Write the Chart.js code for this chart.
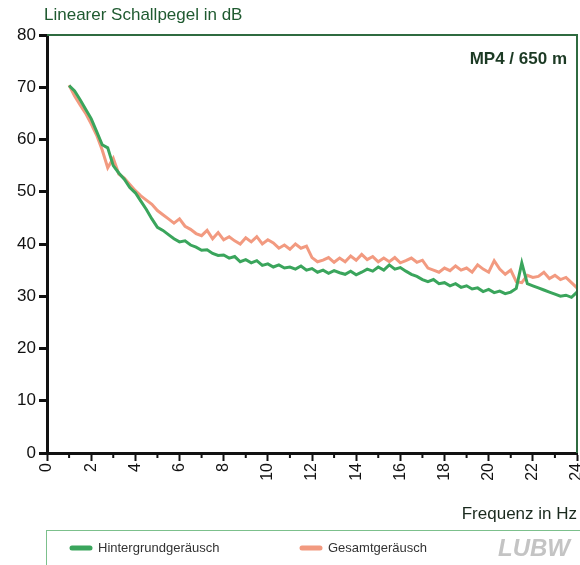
<!DOCTYPE html>
<html>
<head>
<meta charset="utf-8">
<script src="https://cdn.jsdelivr.net/npm/chart.js@4.4.1/dist/chart.umd.min.js"></script>
<style>
  html, body { margin: 0; padding: 0; background: #fff; }
  #wrap { width: 580px; height: 565px; position: relative; }
</style>
</head>
<body>
<div id="wrap"><canvas id="schall"></canvas></div>
<script>
// Frequenz in Hz (Stützstellen)
const frequenz = [
  1.0, 1.25, 1.5, 1.75, 2.0, 2.25, 2.5, 2.75, 3.0, 3.25, 3.5, 3.75,
  4.0, 4.25, 4.5, 4.75, 5.0, 5.25, 5.5, 5.75, 6.0, 6.25, 6.5, 6.75,
  7.0, 7.25, 7.5, 7.75, 8.0, 8.25, 8.5, 8.75, 9.0, 9.25, 9.5, 9.75,
  10.0, 10.25, 10.5, 10.75, 11.0, 11.25, 11.5, 11.75, 12.0, 12.25, 12.5, 12.75,
  13.0, 13.25, 13.5, 13.75, 14.0, 14.25, 14.5, 14.75, 15.0, 15.25, 15.5, 15.75,
  16.0, 16.25, 16.5, 16.75, 17.0, 17.25, 17.5, 17.75, 18.0, 18.25, 18.5, 18.75,
  19.0, 19.25, 19.5, 19.75, 20.0, 20.25, 20.5, 20.75, 21.0, 21.25, 21.5, 21.75,
  22.0, 22.25, 22.5, 22.75, 23.0, 23.25, 23.5, 23.75, 24.0
];

// Hintergrundgeräusch (dB)
const hintergrund = [
  70.3, 69.3, 67.6, 65.8, 64.0, 61.5, 59.0, 58.4, 55.0, 53.6, 52.4, 50.8,
  49.8, 48.2, 46.6, 44.8, 43.2, 42.6, 41.8, 41.0, 40.4, 40.6, 39.8, 39.4,
  38.8, 38.9, 38.2, 37.8, 37.9, 37.3, 37.6, 36.6, 37.0, 36.4, 36.8, 35.9,
  36.2, 35.6, 36.0, 35.4, 35.6, 35.2, 35.8, 35.0, 35.3, 34.6, 35.0, 34.4,
  34.9, 34.5, 34.2, 34.8, 34.1, 34.6, 35.2, 34.8, 35.6, 35.0, 36.0, 35.2,
  35.5, 34.8, 34.2, 33.8, 33.2, 32.8, 33.2, 32.4, 32.6, 32.0, 32.4, 31.7,
  32.0, 31.4, 31.6, 30.9, 31.3, 30.7, 31.0, 30.5, 30.8, 31.5, 36.4, 32.4,
  32.0, 31.6, 31.2, 30.8, 30.4, 30.0, 30.2, 29.8, 30.8
];

// Gesamtgeräusch (dB)
const gesamt = [
  70.4, 68.3, 66.6, 65.0, 63.0, 60.8, 58.0, 54.6, 56.4, 53.4, 52.6, 51.4,
  50.2, 49.2, 48.4, 47.6, 46.4, 45.6, 44.8, 44.0, 44.8, 43.4, 42.8, 42.0,
  41.6, 42.6, 41.0, 42.2, 40.8, 41.4, 40.6, 40.0, 41.2, 40.4, 41.4, 40.0,
  40.8, 40.2, 39.2, 39.8, 39.0, 40.0, 39.2, 39.6, 37.4, 36.6, 36.9, 37.4,
  36.5, 37.3, 36.6, 37.7, 36.9, 38.0, 37.0, 37.6, 36.6, 37.3, 36.6, 37.4,
  36.4, 36.8, 37.3, 36.5, 36.9, 35.4, 35.0, 34.6, 35.4, 34.9, 35.8, 35.0,
  35.4, 34.6, 36.0, 35.2, 34.6, 36.8, 35.2, 34.2, 35.0, 32.8, 32.6, 34.0,
  33.6, 33.8, 34.6, 33.4, 34.0, 33.2, 33.6, 32.6, 31.6
];

const serienNamen = ['Hintergrundgeräusch', 'Gesamtgeräusch'];
const serienFarben = ['#3aa55c', '#f29a80'];
const yTicks = [0, 10, 20, 30, 40, 50, 60, 70, 80];

const punkte = (werte) => frequenz.map((f, i) => ({ x: f, y: werte[i] }));

const rahmenPlugin = {
  id: 'rahmen',
  afterDraw(chart) {
    const c = chart.ctx;
    const a = chart.chartArea;
    const xs = chart.scales.x;
    c.save();
    // oben und rechts grüner Rahmen
    c.strokeStyle = '#2f6b40';
    c.lineWidth = 2;
    c.beginPath();
    c.moveTo(a.left, a.top);
    c.lineTo(a.right, a.top);
    c.lineTo(a.right, a.bottom);
    c.stroke();
    // kleine Zwischenstriche auf der x-Achse
    c.strokeStyle = '#111';
    c.lineWidth = 2;
    for (let v = 1; v < 24; v += 2) {
      const px = xs.getPixelForValue(v);
      c.beginPath();
      c.moveTo(px, a.bottom);
      c.lineTo(px, a.bottom + 5);
      c.stroke();
    }
    // Titel
    c.fillStyle = '#1f5a30';
    c.font = '17px "Liberation Sans", Arial, sans-serif';
    c.textAlign = 'left';
    c.textBaseline = 'alphabetic';
    c.fillText('Linearer Schallpegel in dB', 44, 20);
    // Messpunkt
    c.fillStyle = '#1c3a24';
    c.font = 'bold 17px "Liberation Sans", Arial, sans-serif';
    c.textAlign = 'right';
    c.fillText('MP4 / 650 m', 567, 64);
    // Achsentitel
    c.fillStyle = '#1a2a1e';
    c.font = '17px "Liberation Sans", Arial, sans-serif';
    c.fillText('Frequenz in Hz', 577, 519);
    // Legendenkasten
    c.strokeStyle = '#7cc08c';
    c.lineWidth = 1;
    c.strokeRect(46.5, 530.5, 560, 60);
    c.lineCap = 'round';
    c.lineWidth = 5;
    const legX = [72, 302];
    c.font = '13px "Liberation Sans", Arial, sans-serif';
    c.textAlign = 'left';
    c.textBaseline = 'middle';
    serienNamen.forEach((name, i) => {
      c.strokeStyle = serienFarben[i];
      c.beginPath();
      c.moveTo(legX[i], 548);
      c.lineTo(legX[i] + 18, 548);
      c.stroke();
      c.fillStyle = '#333';
      c.fillText(name, legX[i] + 26, 548);
    });
    // Logo
    c.fillStyle = '#c4c4c4';
    c.font = 'italic bold 24px "Liberation Sans", Arial, sans-serif';
    c.textAlign = 'right';
    c.fillText('LUBW', 570, 549);
    c.restore();
  }
};

const ctx = document.getElementById('schall').getContext('2d');
const schallChart = new Chart(ctx, {
  type: 'line',
  data: {
    datasets: [
      {
        label: serienNamen[0],
        data: punkte(hintergrund),
        borderColor: serienFarben[0],
        borderWidth: 3,
        pointRadius: 0,
        tension: 0
      },
      {
        label: serienNamen[1],
        data: punkte(gesamt),
        borderColor: serienFarben[1],
        borderWidth: 3,
        pointRadius: 0,
        tension: 0
      }
    ]
  },
  options: {
    responsive: true,
    maintainAspectRatio: false,
    animation: false,
    layout: {
      padding: { top: 35, right: 3, bottom: 72, left: 0 }
    },
    scales: {
      x: {
        type: 'linear',
        min: 0,
        max: 24,
        afterFit: (s) => { s.height = 40; s.paddingLeft = 0; s.paddingRight = 0; },
        border: { color: '#111', width: 3 },
        grid: { drawOnChartArea: false, tickLength: 8, tickWidth: 2, tickColor: '#111' },
        ticks: {
          stepSize: 2,
          autoSkip: false,
          maxRotation: 90,
          minRotation: 90,
          padding: 2,
          color: '#111',
          font: { family: '"Liberation Sans", Arial, sans-serif', size: 16 }
        }
      },
      y: {
        min: 0,
        max: 80,
        afterFit: (s) => { s.width = 47; s.paddingTop = 0; s.paddingBottom = 0; },
        afterBuildTicks: (s) => { s.ticks = yTicks.map(v => ({ value: v })); },
        border: { color: '#111', width: 3 },
        grid: { drawOnChartArea: false, tickLength: 8, tickWidth: 3, tickColor: '#111' },
        ticks: {
          padding: 3,
          color: '#111',
          font: { family: '"Liberation Sans", Arial, sans-serif', size: 17 }
        }
      }
    },
    plugins: {
      legend: { display: false },
      tooltip: { enabled: false }
    }
  },
  plugins: [rahmenPlugin]
});
</script>
</body>
</html>
